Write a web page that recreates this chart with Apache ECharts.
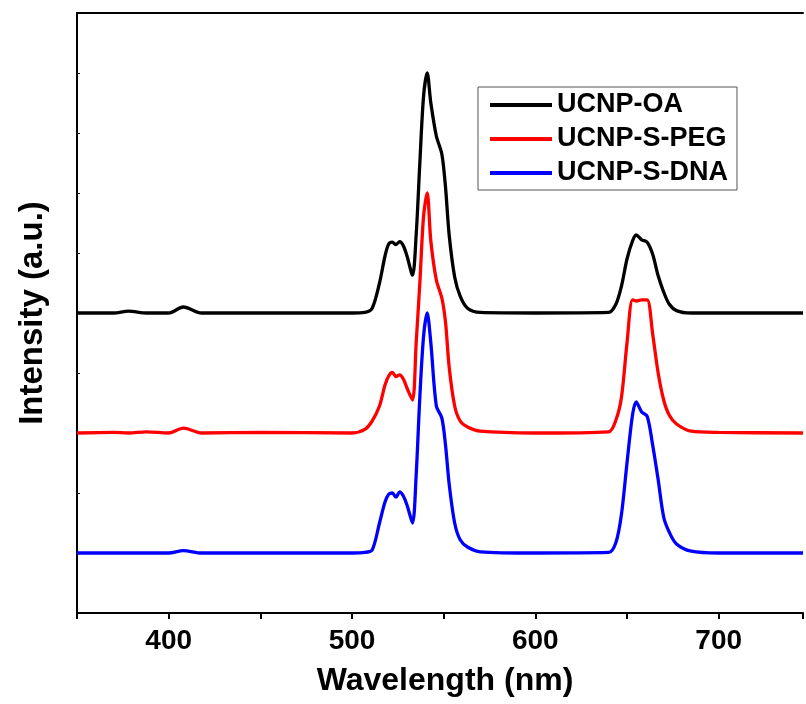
<!DOCTYPE html>
<html>
<head>
<meta charset="utf-8">
<script src="https://cdn.jsdelivr.net/npm/echarts@6/dist/echarts.min.js"></script>
<style>
html,body{margin:0;padding:0;background:#fff;}
#chart{width:806px;height:704px;}
</style>
</head>
<body>
<div id="chart"></div>
<script>
// Wavelength sample points (nm)
const wavelength = [350, 370, 378, 388, 400, 408, 418, 450, 500, 507, 511, 515, 518, 520, 522, 524, 526, 528, 530, 533, 535, 537, 539, 541, 543, 546, 549, 551, 553, 556, 559, 563, 570, 600, 640, 644, 647, 650, 653, 655, 658, 661, 664, 667, 670, 673, 677, 685, 700, 746];
// Intensities (arbitrary units, offset spectra)
const oaValues  = [5.0, 5.0, 5.03, 5.0, 5.0, 5.1, 5.0, 5.0, 5.0, 5.01, 5.08, 5.5, 5.95, 6.15, 6.18, 6.14, 6.19, 6.12, 5.95, 5.63, 6.3, 7.5, 8.6, 9.0, 8.5, 7.95, 7.65, 7.1, 6.3, 5.6, 5.28, 5.08, 5.01, 5.0, 5.01, 5.15, 5.45, 5.9, 6.2, 6.3, 6.22, 6.18, 5.98, 5.62, 5.35, 5.15, 5.04, 5.0, 5.0, 5.0];
const pegValues = [3.0, 3.01, 3.0, 3.02, 3.0, 3.08, 3.0, 3.01, 3.0, 3.06, 3.2, 3.45, 3.8, 3.95, 4.01, 3.94, 3.97, 3.9, 3.75, 3.55, 4.5, 5.5, 6.6, 7.0, 6.2, 5.55, 5.25, 4.85, 4.1, 3.45, 3.2, 3.1, 3.03, 3.0, 3.02, 3.22, 3.6, 4.5, 5.22, 5.2, 5.22, 5.22, 4.65, 4.0, 3.55, 3.3, 3.15, 3.03, 3.01, 3.0];
const dnaValues = [1.0, 1.0, 1.0, 1.0, 1.0, 1.04, 1.0, 1.0, 1.0, 1.01, 1.05, 1.5, 1.85, 1.98, 2.0, 1.93, 2.02, 1.95, 1.8, 1.5, 2.3, 3.6, 4.6, 5.0, 4.5, 3.45, 3.25, 2.8, 2.15, 1.5, 1.22, 1.1, 1.02, 1.0, 1.01, 1.18, 1.65, 2.5, 3.3, 3.52, 3.35, 3.28, 2.8, 2.22, 1.6, 1.35, 1.15, 1.03, 1.0, 1.0];
const seriesNames = ['UCNP-OA', 'UCNP-S-PEG', 'UCNP-S-DNA'];
const seriesColors = ['#000000', '#ff0000', '#0000ff'];
const xTickLabels = [400, 500, 600, 700];

const FONT = '"Liberation Sans", Arial, sans-serif';
const toPairs = vals => wavelength.map((w, i) => [w, vals[i]]);
const allValues = [oaValues, pegValues, dnaValues];

const chart = echarts.init(document.getElementById('chart'), null, {renderer: 'canvas'});
chart.setOption({
  animation: false,
  backgroundColor: '#ffffff',
  grid: {left: 77, right: 0, top: 13, bottom: 91, containLabel: false},
  legend: {
    orient: 'vertical',
    left: 478, top: 87,
    data: seriesNames,
    icon: 'rect',
    itemWidth: 62, itemHeight: 4,
    itemGap: 2,
    itemTextGap: 5,
    padding: [2, 9, 1, 12],
    borderColor: '#555555', borderWidth: 1,
    textStyle: {fontFamily: FONT, fontWeight: 'bold', fontSize: 27, color: '#000', lineHeight: 32}
  },
  xAxis: [{
    type: 'value', min: 350, max: 746, interval: 50,
    name: 'Wavelength (nm)', nameLocation: 'middle', nameGap: 52,
    nameTextStyle: {fontFamily: FONT, fontWeight: 'bold', fontSize: 32, color: '#000', padding: [0, 0, 0, 10]},
    axisLine: {show: true, onZero: false, lineStyle: {color: '#000', width: 2}},
    axisTick: {show: true, inside: false, length: 6, lineStyle: {color: '#000', width: 2}},
    axisLabel: {
      margin: 14, fontFamily: FONT, fontWeight: 'bold', fontSize: 28, color: '#000',
      formatter: v => xTickLabels.indexOf(v) >= 0 ? String(v) : ''
    },
    splitLine: {show: false}
  }, {
    type: 'value', position: 'top', min: 350, max: 746,
    axisLine: {show: true, onZero: false, lineStyle: {color: '#000', width: 2}},
    axisTick: {show: false}, axisLabel: {show: false}, splitLine: {show: false}
  }],
  yAxis: {
    type: 'value', min: 0, max: 10, interval: 1,
    name: 'Intensity (a.u.)', nameLocation: 'middle', nameGap: 28,
    nameTextStyle: {fontFamily: FONT, fontWeight: 'bold', fontSize: 33, color: '#000'},
    axisLine: {show: true, onZero: false, lineStyle: {color: '#000', width: 2}},
    axisTick: {show: true, inside: true, length: 3, lineStyle: {color: '#000', width: 1}},
    axisLabel: {show: false},
    splitLine: {show: false}
  },
  series: seriesNames.map((name, i) => ({
    name: name,
    type: 'line',
    data: toPairs(allValues[i]),
    showSymbol: false,
    smooth: 0.3,
    z: 3 - i,
    lineStyle: {color: seriesColors[i], width: 3.3},
    itemStyle: {color: seriesColors[i]}
  }))
});
</script>
</body>
</html>
